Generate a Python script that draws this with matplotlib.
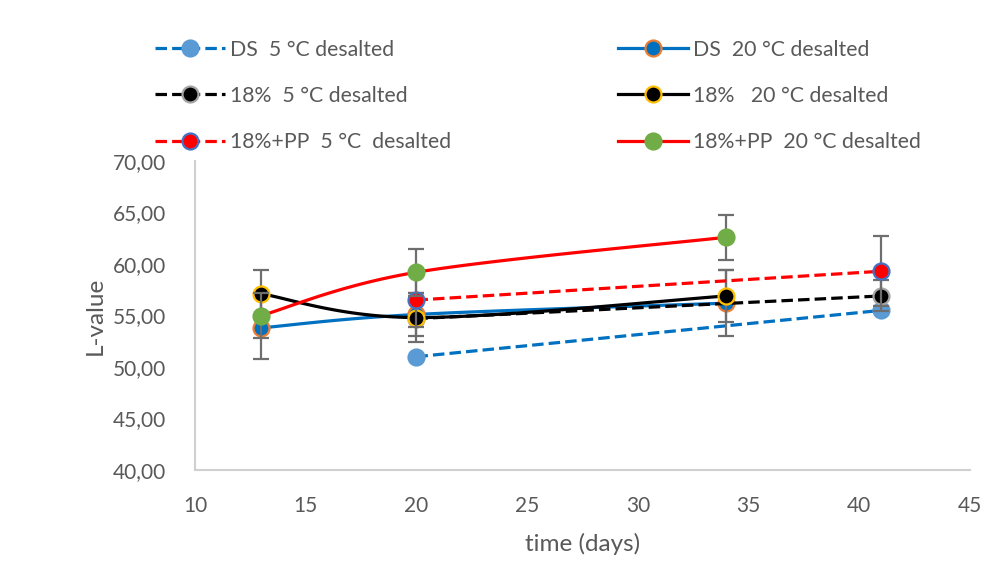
import numpy as np
import matplotlib
matplotlib.use("Agg")
import matplotlib.pyplot as plt
from matplotlib.lines import Line2D

plt.rcParams['font.family'] = ['Lato', 'DejaVu Sans']

# L-value measurements over storage time
ds5_x = [20, 41]
ds5_y = [51.0, 55.5]
ds5_err = [0.0, 0.0]

ds20_x = [13, 20, 34]
ds20_y = [53.8, 55.1, 56.2]
ds20_err = [3.0, 2.1, 3.2]

s18_5_x = [20, 41]
s18_5_y = [54.7, 56.9]
s18_5_err = [0.0, 1.5]

s18_20_x = [13, 20, 34]
s18_20_y = [57.1, 54.8, 56.9]
s18_20_err = [2.3, 2.4, 2.5]

pp5_x = [20, 41]
pp5_y = [56.5, 59.3]
pp5_err = [2.6, 3.4]

pp20_x = [13, 20, 34]
pp20_y = [55.0, 59.2, 62.6]
pp20_err = [2.2, 2.3, 2.2]

labels = ["DS  5 °C desalted", "DS  20 °C desalted",
          "18%  5 °C desalted", "18%   20 °C desalted",
          "18%+PP  5 °C  desalted", "18%+PP  20 °C desalted"]

x_ticks = [10, 15, 20, 25, 30, 35, 40, 45]
y_ticks = [40, 45, 50, 55, 60, 65, 70]


def smooth(xs, ys, n=40):
    """Bezier smoothing through the points (Excel-style smoothed line)."""
    p = np.column_stack([xs, ys]).astype(float)
    if len(p) < 3:
        return p[:, 0], p[:, 1]
    ext = np.vstack([p[0], p, p[-1]])
    out = []
    t = np.linspace(0, 1, n)[:, None]
    for i in range(1, len(ext) - 2):
        p0, p1, p2, p3 = ext[i - 1], ext[i], ext[i + 1], ext[i + 2]
        c1 = p1 + (p2 - p0) / 6.0
        c2 = p2 - (p3 - p1) / 6.0
        seg = ((1 - t) ** 3) * p1 + 3 * ((1 - t) ** 2) * t * c1 \
            + 3 * (1 - t) * t ** 2 * c2 + t ** 3 * p2
        out.append(seg if i == 1 else seg[1:])
    s = np.vstack(out)
    return s[:, 0], s[:, 1]


series = [
    dict(x=ds5_x, y=ds5_y, err=ds5_err, lc='#0070C0', ls='dash', mfc='#5B9BD5', mec='#5B9BD5', smooth=False),
    dict(x=ds20_x, y=ds20_y, err=ds20_err, lc='#0070C0', ls='solid', mfc='#0070C0', mec='#ED7D31', smooth=True),
    dict(x=s18_5_x, y=s18_5_y, err=s18_5_err, lc='#000000', ls='dash', mfc='#000000', mec='#A5A5A5', smooth=False),
    dict(x=s18_20_x, y=s18_20_y, err=s18_20_err, lc='#000000', ls='solid', mfc='#000000', mec='#FFC000', smooth=True),
    dict(x=pp5_x, y=pp5_y, err=pp5_err, lc='#FF0000', ls='dash', mfc='#FF0000', mec='#4472C4', smooth=False),
    dict(x=pp20_x, y=pp20_y, err=pp20_err, lc='#FF0000', ls='solid', mfc='#70AD47', mec='#70AD47', smooth=True),
]

fig = plt.figure(figsize=(9.85, 5.87), dpi=100)
ax = fig.add_axes([195 / 985, 1 - 470 / 587, 775 / 985, 309 / 587])

LW = 2.3
MS = 11.5
dash = (3.6, 1.6)

handles = []
for i, s in enumerate(series):
    z = 2 + i
    err = np.array(s['err'])
    mask = err > 0
    if mask.any():
        ax.errorbar(np.array(s['x'])[mask], np.array(s['y'])[mask], yerr=err[mask],
                    fmt='none', ecolor='#6E6E6E', elinewidth=1.6, capsize=5.5,
                    capthick=1.6, zorder=z)
    if s['smooth']:
        xs, ys = smooth(s['x'], s['y'])
    else:
        xs, ys = s['x'], s['y']
    line, = ax.plot(xs, ys, color=s['lc'], lw=LW, zorder=z + 0.1,
                    solid_capstyle='round', dash_capstyle='butt')
    if s['ls'] == 'dash':
        line.set_dashes(dash)
    ax.plot(s['x'], s['y'], ls='none', marker='o', ms=MS, mfc=s['mfc'],
            mec=s['mec'], mew=1.6, zorder=z + 0.2)
    h = Line2D([], [], color=s['lc'], lw=LW, marker='o', ms=MS,
               mfc=s['mfc'], mec=s['mec'], mew=1.6)
    if s['ls'] == 'dash':
        h.set_dashes(dash)
    handles.append(h)

ax.set_xlim(10, 45)
ax.set_ylim(40, 70)
ax.set_xticks(x_ticks)
ax.set_yticks(y_ticks)
ax.set_yticklabels([f"{v:.2f}".replace('.', ',') for v in y_ticks])
ax.tick_params(axis='both', length=0, labelsize=15, labelcolor='#595959')
ax.tick_params(axis='x', pad=19)
ax.tick_params(axis='y', pad=21)
for side in ['top', 'right']:
    ax.spines[side].set_visible(False)
for side in ['left', 'bottom']:
    ax.spines[side].set_color('#D0D0D0')
    ax.spines[side].set_linewidth(1.5)

ax.set_xlabel('time (days)', fontsize=17.5, color='#595959', labelpad=12)
ax.set_ylabel('L-value', fontsize=17.5, color='#595959', labelpad=5)

leg_kw = dict(frameon=False, fontsize=15.3, labelcolor='#595959', handlelength=3.3,
              handletextpad=0.25, labelspacing=1.24, borderaxespad=0, borderpad=0)
leg1 = fig.legend(handles=[handles[0], handles[2], handles[4]],
                  labels=[labels[0], labels[2], labels[4]],
                  loc='upper left', bbox_to_anchor=(155 / 985, 1 - 39.5 / 587), **leg_kw)
leg2 = fig.legend(handles=[handles[1], handles[3], handles[5]],
                  labels=[labels[1], labels[3], labels[5]],
                  loc='upper left', bbox_to_anchor=(618 / 985, 1 - 39.5 / 587), **leg_kw)

fig.savefig('out.png', dpi=100)
